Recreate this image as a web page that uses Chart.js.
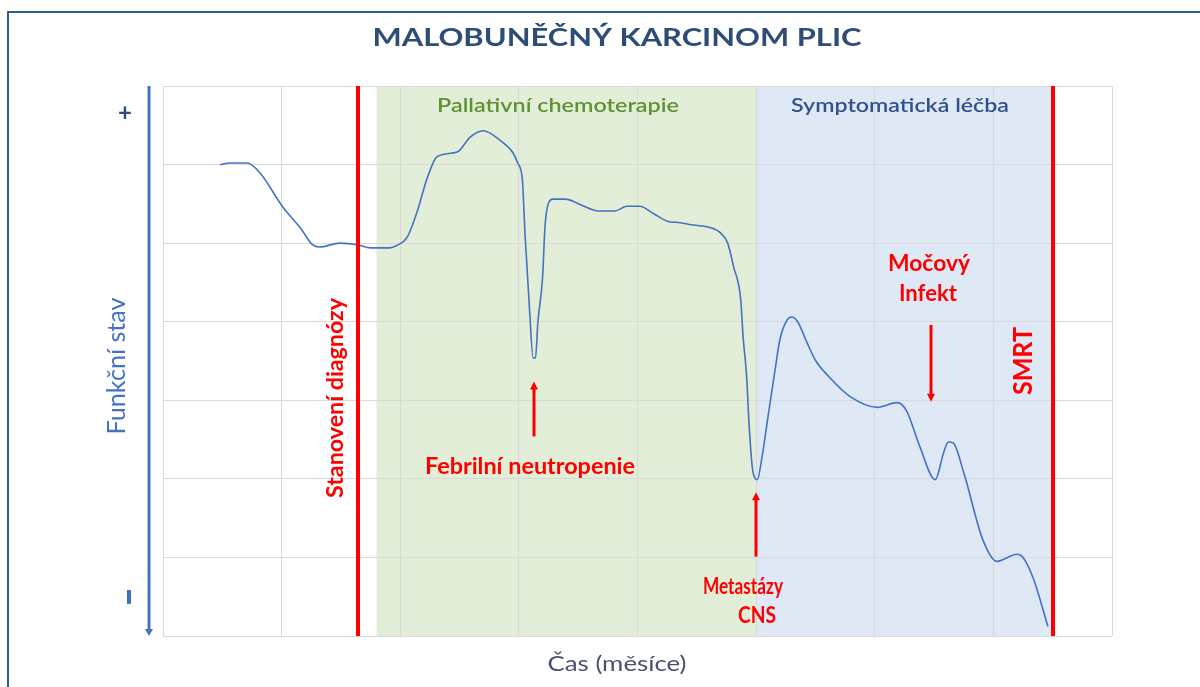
<!DOCTYPE html>
<html>
<head>
<meta charset="utf-8">
<title>Malobuněčný karcinom plic</title>
<script src="https://cdn.jsdelivr.net/npm/chart.js@4.4.1/dist/chart.umd.min.js"></script>
<style>
  html, body { margin: 0; padding: 0; background: #fff; }
  canvas { display: block; }
</style>
</head>
<body>
<canvas id="chart" width="1200" height="687"></canvas>
<script>
// time axis in grid columns (0-8), functional state in grid rows (0-7)
var months = [0.48, 0.56, 0.71, 0.82, 1.01, 1.16, 1.26, 1.32, 1.49, 1.64, 1.75, 1.91, 1.97, 2.06, 2.14,
  2.23, 2.31, 2.48, 2.59, 2.70, 2.84, 2.95, 2.99, 3.03, 3.04, 3.05, 3.07, 3.09, 3.12, 3.14, 3.16,
  3.20, 3.22, 3.25, 3.29, 3.39, 3.52, 3.67, 3.81, 3.91, 4.02, 4.13, 4.25, 4.36, 4.47, 4.61, 4.70,
  4.76, 4.81, 4.87, 4.89, 4.92, 4.94, 4.97, 5.01, 5.05, 5.10, 5.16, 5.20, 5.26, 5.30, 5.35, 5.43,
  5.50, 5.62, 5.79, 6.02, 6.19, 6.27, 6.38, 6.51, 6.58, 6.62, 6.66, 6.75, 6.91, 7.03, 7.20, 7.25,
  7.34, 7.46];
var state = [6.00, 6.02, 6.02, 5.89, 5.46, 5.19, 4.98, 4.95, 5.00, 4.98, 4.94, 4.94, 4.97, 5.08, 5.39,
  5.84, 6.10, 6.16, 6.35, 6.43, 6.31, 6.15, 6.02, 5.80, 5.51, 5.17, 4.66, 4.15, 3.54, 3.54, 3.99,
  4.57, 5.21, 5.51, 5.56, 5.56, 5.49, 5.41, 5.41, 5.47, 5.47, 5.38, 5.28, 5.26, 5.23, 5.20, 5.13,
  5.00, 4.70, 4.28, 3.81, 3.30, 2.71, 2.12, 1.99, 2.28, 2.79, 3.39, 3.77, 4.02, 4.06, 4.00, 3.73,
  3.51, 3.29, 3.05, 2.91, 2.97, 2.86, 2.41, 1.99, 2.33, 2.47, 2.46, 2.08, 1.23, 0.95, 1.04, 1.00,
  0.72, 0.12];

var diagnosisAt = 1.64;
var chemoStart = 1.80;
var symptomaticStart = 5.0;
var deathAt = 7.5;

// event arrows: x, tail, tip
var arrowX = [3.13, 5.0, 6.47];
var arrowFrom = [2.54, 1.01, 3.96];
var arrowTo = [3.24, 1.83, 2.98];

var points = months.map(function(m, i) {
  return { x: m, y: state[i] };
});

function fitText(ctx, text, x, y, o) {
  ctx.save();
  ctx.font = (o.weight || 'normal') + ' 40px Lato';
  var w = ctx.measureText(text).width;
  var capH = ctx.measureText('H').actualBoundingBoxAscent;
  ctx.translate(x, y);
  if (o.rot) ctx.rotate(o.rot);
  ctx.scale(o.w / w, o.cap / capH);
  ctx.fillStyle = o.color;
  ctx.textAlign = 'center';
  ctx.textBaseline = 'alphabetic';
  ctx.fillText(text, 0, 0);
  ctx.restore();
}

function redArrow(ctx, x, y1, y2) {
  var dir = y2 < y1 ? -1 : 1;
  ctx.save();
  ctx.strokeStyle = '#ff0000';
  ctx.fillStyle = '#ff0000';
  ctx.lineWidth = 3;
  ctx.beginPath();
  ctx.moveTo(x, y1);
  ctx.lineTo(x, y2 - dir * 6);
  ctx.stroke();
  ctx.beginPath();
  ctx.moveTo(x, y2);
  ctx.lineTo(x - 4, y2 - dir * 8);
  ctx.lineTo(x + 4, y2 - dir * 8);
  ctx.closePath();
  ctx.fill();
  ctx.restore();
}

var backdrop = {
  id: 'backdrop',
  beforeDraw: function(chart) {
    var ctx = chart.ctx, a = chart.chartArea, xs = chart.scales.x;
    ctx.save();
    ctx.fillStyle = '#ffffff';
    ctx.fillRect(0, 0, chart.width, chart.height);
    ctx.strokeStyle = '#2b5f8c';
    ctx.lineWidth = 2;
    ctx.strokeRect(8, 12, 1400, 900);
    ctx.fillStyle = '#e3eed8';
    ctx.fillRect(xs.getPixelForValue(chemoStart), a.top,
      xs.getPixelForValue(symptomaticStart) - xs.getPixelForValue(chemoStart), a.bottom - a.top);
    ctx.fillStyle = '#dfe9f5';
    ctx.fillRect(xs.getPixelForValue(symptomaticStart), a.top,
      xs.getPixelForValue(deathAt) - xs.getPixelForValue(symptomaticStart), a.bottom - a.top);
    ctx.restore();
  }
};

var notes = {
  id: 'notes',
  afterDatasetsDraw: function(chart) {
    var ctx = chart.ctx, a = chart.chartArea, xs = chart.scales.x, ys = chart.scales.y;
    ctx.save();
    ctx.strokeStyle = '#ff0000';
    ctx.lineWidth = 4;
    [diagnosisAt, deathAt].forEach(function(v) {
      var px = Math.round(xs.getPixelForValue(v));
      ctx.beginPath();
      ctx.moveTo(px, a.top);
      ctx.lineTo(px, a.bottom);
      ctx.stroke();
    });
    for (var i = 0; i < arrowX.length; i++) {
      redArrow(ctx, Math.round(xs.getPixelForValue(arrowX[i])),
        ys.getPixelForValue(arrowFrom[i]), ys.getPixelForValue(arrowTo[i]));
    }

    // functional state axis arrow
    var ax = a.left - 14;
    ctx.strokeStyle = '#4472c4';
    ctx.fillStyle = '#4472c4';
    ctx.lineWidth = 3;
    ctx.beginPath();
    ctx.moveTo(ax, a.top);
    ctx.lineTo(ax, a.bottom - 5);
    ctx.stroke();
    ctx.beginPath();
    ctx.moveTo(ax, a.bottom);
    ctx.lineTo(ax - 4, a.bottom - 7);
    ctx.lineTo(ax + 4, a.bottom - 7);
    ctx.closePath();
    ctx.fill();
    ctx.restore();

    var up = -Math.PI / 2;
    fitText(ctx, 'MALOBUNĚČNÝ KARCINOM PLIC', 617, 46, { weight: 'bold', color: '#2e4d75', w: 489, cap: 18 });
    fitText(ctx, 'Pallativní chemoterapie', 558, 112, { weight: 600, color: '#5f9232', w: 242, cap: 14 });
    fitText(ctx, 'Symptomatická léčba', 900, 112, { weight: 600, color: '#30508f', w: 218, cap: 14 });
    fitText(ctx, 'Febrilní neutropenie', 530, 474, { weight: 'bold', color: '#ff0000', w: 210, cap: 16 });
    fitText(ctx, 'Metastázy', 743, 594, { weight: 'bold', color: '#ff0000', w: 80, cap: 16 });
    fitText(ctx, 'CNS', 757, 623, { weight: 'bold', color: '#ff0000', w: 38, cap: 16 });
    fitText(ctx, 'Močový', 929, 271, { weight: 'bold', color: '#ff0000', w: 82, cap: 16 });
    fitText(ctx, 'Infekt', 928, 301, { weight: 'bold', color: '#ff0000', w: 58, cap: 16 });
    fitText(ctx, 'Čas (měsíce)', 617, 671, { color: '#44546a', w: 139, cap: 16 });
    fitText(ctx, 'Stanovení diagnózy', 343, 398, { weight: 'bold', color: '#ff0000', w: 200, cap: 16, rot: up });
    fitText(ctx, 'SMRT', 1032, 361, { weight: 'bold', color: '#ff0000', w: 68, cap: 19, rot: up });
    fitText(ctx, 'Funkční stav', 125, 366, { color: '#4472c4', w: 137, cap: 18, rot: up });

    ctx.save();
    ctx.fillStyle = '#2f4b7c';
    ctx.font = 'bold 24px Lato';
    ctx.textAlign = 'center';
    ctx.textBaseline = 'middle';
    ctx.fillText('+', 125, 113);
    ctx.translate(130, 597);
    ctx.rotate(up);
    ctx.scale(1.3, 1.8);
    ctx.fillStyle = '#3f6fbf';
    ctx.fillText('−', 0, 0);
    ctx.restore();
  }
};

var chart = new Chart('chart', {
  type: 'line',
  data: {
    datasets: [{
      data: points,
      borderColor: '#4472c4',
      borderWidth: 1.6,
      pointRadius: 0,
      cubicInterpolationMode: 'monotone',
      fill: false
    }]
  },
  options: {
    responsive: false,
    animation: false,
    devicePixelRatio: 1,
    layout: { padding: { left: 163, top: 86, right: 88, bottom: 51 } },
    plugins: { legend: { display: false }, tooltip: { enabled: false }, title: { display: false } },
    scales: {
      x: {
        type: 'linear',
        min: 0,
        max: 8,
        ticks: { display: false, stepSize: 1 },
        grid: { color: '#d9d9d9', drawTicks: false },
        border: { display: false },
        afterFit: function(s) { s.height = 0; }
      },
      y: {
        min: 0,
        max: 7,
        ticks: { display: false, stepSize: 1 },
        grid: { color: '#d9d9d9', drawTicks: false },
        border: { display: false },
        afterFit: function(s) { s.width = 0; }
      }
    }
  },
  plugins: [backdrop, notes]
});
</script>
</body>
</html>
